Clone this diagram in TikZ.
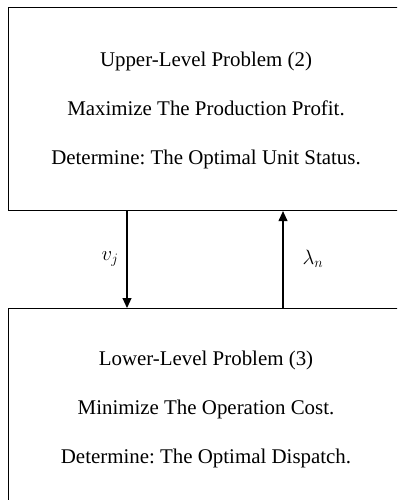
\documentclass[tikz,border=0pt]{standalone}
\usepackage{fontspec}
\setmainfont{Liberation Serif}
\usetikzlibrary{arrows.meta}
\frenchspacing
\tikzset{
  probbox/.style={draw=black, line width=1.1bp, minimum width=396bp, minimum height=203bp, inner sep=0pt, anchor=north west},
  boxtext/.style={anchor=base, inner sep=0pt, font=\fontsize{20.9bp}{24bp}\selectfont},
  flow/.style={line width=1.1bp, -{Triangle[length=10bp,width=9bp]}},
  mathlab/.style={inner sep=0pt, font=\fontsize{22bp}{26bp}\selectfont}
}
\begin{document}
\begin{tikzpicture}[x=1bp,y=-1bp]
\useasboundingbox (0,0) rectangle (397,500);
\clip (0,0) rectangle (397,500);
\node[probbox] (up) at (8,7) {};
\node[probbox] (low) at (8,308) {};
\node[boxtext] (u1) at (206,67) {Upper-Level Problem (2)};
\node[boxtext] (u2) at (206,116) {Maximize The Production Profit.};
\node[boxtext] (u3) at (206,165) {Determine: The Optimal Unit Status.};
\node[boxtext] (l1) at (206,365) {Lower-Level Problem (3)};
\node[boxtext] (l2) at (206,414) {Minimize The Operation Cost.};
\node[boxtext] (l3) at (206,463) {Determine: The Optimal Dispatch.};
\coordinate (ax) at (127,0);
\coordinate (bx) at (283,0);
\draw[flow] (up.south -| ax) -- (low.north -| ax);
\draw[flow] (low.north -| bx) -- (up.south -| bx);
\node[mathlab] (vj) at (110,259) {$v_j$};
\node[mathlab] (ln) at (313,259) {$\lambda_n$};
\end{tikzpicture}
\end{document}
